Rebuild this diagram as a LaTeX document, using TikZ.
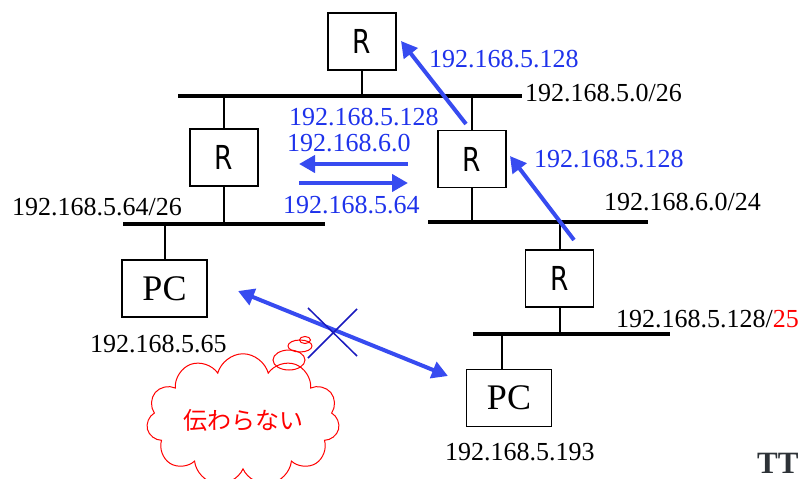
\documentclass[tikz,border=0pt]{standalone}
\usepackage{fontspec}
\setmainfont{Liberation Serif}
\newfontfamily\rfont[FakeStretch=0.8]{DejaVu Sans}
\newfontfamily\jfont{Noto Sans CJK JP}
\usepackage{xcolor}
\usepackage{tikz}
\usetikzlibrary{shapes,arrows.meta,positioning}
\definecolor{routeblue}{RGB}{30,50,235}
\definecolor{arrowblue}{RGB}{55,75,240}
\definecolor{crossblue}{RGB}{25,25,190}
\definecolor{logogray}{RGB}{45,50,55}

\begin{document}
\begin{tikzpicture}[
    x=1pt, y=-1pt,
    box/.style={rectangle, draw, line width=1.6pt, minimum width=68pt, minimum height=57pt, font=\rfont\fontsize{33}{35}\selectfont},
    pcbox/.style={rectangle, draw, line width=1.6pt, minimum width=85pt, minimum height=57pt, font=\fontsize{36}{38}\selectfont},
    bus/.style={line width=4.5pt},
    stem/.style={line width=2pt},
    net/.style={anchor=base west, inner sep=0pt, font=\fontsize{26}{28}\selectfont},
    route/.style={net, text=routeblue},
    arrow/.style={-{Triangle[length=16pt,width=17pt]}, line width=4pt, arrowblue},
    bubble/.style={ellipse, draw=red, line width=1pt, inner sep=0pt}
]
\useasboundingbox (0,0) rectangle (804,479);

% Routers and PCs
\node[box] (rtop) at (362,41.5) {R};
\node[box] (rleft) at (224,157.5) {R};
\node[box] (rmid) at (472,159) {R};
\node[box] (rlow) at (559.5,278.5) {R};
\node[pcbox] (pcleft) at (164.5,288.5) {PC};
\node[pcbox] (pcright) at (509,398) {PC};

% Network buses
\coordinate (n1w) at (178,96);  \coordinate (n1e) at (522,96);
\coordinate (n2lw) at (123,224); \coordinate (n2le) at (325,224);
\coordinate (n2rw) at (428,222); \coordinate (n2re) at (648,222);
\coordinate (n3w) at (473,334);  \coordinate (n3e) at (670,334);
\draw[bus] (n1w) -- (n1e);
\draw[bus] (n2lw) -- (n2le);
\draw[bus] (n2rw) -- (n2re);
\draw[bus] (n3w) -- (n3e);

% Stems
\draw[stem] (rtop) -- (rtop |- n1w);
\draw[stem] (rleft) -- (rleft |- n1w);
\draw[stem] (rleft) -- (rleft |- n2lw);
\draw[stem] (rmid) -- (rmid |- n1w);
\draw[stem] (rmid) -- (rmid |- n2rw);
\draw[stem] (rlow) -- (rlow |- n2rw);
\draw[stem] (rlow) -- (rlow |- n3w);
\draw[stem] (pcleft) -- (pcleft |- n2lw);
\draw[stem] ([xshift=-7pt]pcright.north) -- ([xshift=-7pt]pcright.north |- n3w);

% Network labels
\node[net] (l1) at (525,101) {192.168.5.0/26};
\node[net] (l2) at (12,215) {192.168.5.64/26};
\node[net] (l3) at (604,210) {192.168.6.0/24};
\node[net] (l4) at (616,327) {192.168.5.128/\textcolor{red}{25}};
\node[net] (l5) at (90,352) {192.168.5.65};
\node[net] (l6) at (445,460) {192.168.5.193};

% Route advertisements
\node[route] (ad1) at (429,67) {192.168.5.128};
\node[route] (ad2) at (289,125) {192.168.5.128};
\node[route] (ad3) at (287,151) {192.168.6.0};
\node[route] (ad4) at (283,213) {192.168.5.64};
\node[route] (ad5) at (534,167) {192.168.5.128};

\coordinate (a1s) at (466,124); \coordinate (a1e) at (401,41);
\coordinate (a2s) at (408,164); \coordinate (a2e) at (299,164);
\coordinate (a3s) at (299,183); \coordinate (a3e) at (408,183);
\coordinate (a4s) at (574,240); \coordinate (a4e) at (510,156);
\coordinate (a5s) at (238,291); \coordinate (a5e) at (448,376);
\draw[arrow] (a1s) -- (a1e);
\draw[arrow] (a2s) -- (a2e);
\draw[arrow] (a3s) -- (a3e);
\draw[arrow] (a4s) -- (a4e);
\draw[arrow, {Triangle[length=16pt,width=17pt]}-{Triangle[length=16pt,width=17pt]}] (a5s) -- (a5e);

% Cross
\coordinate (x1) at (308,308); \coordinate (x2) at (357,356);
\coordinate (x3) at (357,309); \coordinate (x4) at (308,358);
\draw[crossblue, line width=1.5pt] (x1) -- (x2);
\draw[crossblue, line width=1.5pt] (x3) -- (x4);

% Thought cloud
\node[cloud, draw=red, line width=1pt, cloud puffs=11, aspect=1.7, inner sep=0pt, minimum width=193pt, minimum height=115pt, text=red, font=\jfont\fontsize{24}{26}\selectfont] (cloud) at (243,420) {伝わらない};
\node[bubble, minimum width=32pt, minimum height=20pt] (bub1) at (289,360) {};
\node[bubble, minimum width=24pt, minimum height=12pt] (bub2) at (300,346) {};
\node[bubble, minimum width=11pt, minimum height=7pt] (bub3) at (305,340) {};

% Logo fragment
\node[anchor=north west, inner sep=0pt, text=logogray, font=\bfseries\fontsize{31}{33}\selectfont] (logo) at (757,453) {TT};

\end{tikzpicture}
\end{document}
